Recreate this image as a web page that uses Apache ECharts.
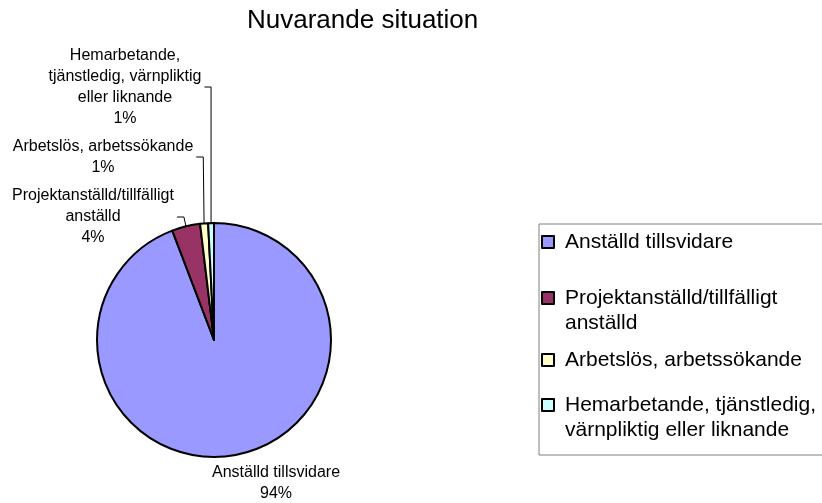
<!DOCTYPE html>
<html>
<head>
<meta charset="utf-8">
<script src="https://cdn.jsdelivr.net/npm/echarts@6/dist/echarts.min.js"></script>
<style>
  html, body { margin: 0; padding: 0; background: #fff; }
  #chart { width: 822px; height: 503px; }
</style>
</head>
<body>
<div id="chart"></div>
<script>
const categories = [
  "Anställd tillsvidare",
  "Projektanställd/tillfälligt anställd",
  "Arbetslös, arbetssökande",
  "Hemarbetande, tjänstledig, värnpliktig eller liknande"
];
const shares = [94.2, 3.9, 1.1, 0.8];
const sliceColors = ["#9999FF", "#993366", "#FFFFCC", "#CCFFFF"];

// how the names wrap, in the slice labels and in the legend
const pieLabelLines = [
  ["Anställd tillsvidare"],
  ["Projektanställd/tillfälligt", "anställd"],
  ["Arbetslös, arbetssökande"],
  ["Hemarbetande,", "tjänstledig, värnpliktig", "eller liknande"]
];
const legendLines = [
  ["Anställd tillsvidare"],
  ["Projektanställd/tillfälligt", "anställd"],
  ["Arbetslös, arbetssökande"],
  ["Hemarbetande, tjänstledig,", "värnpliktig eller liknande"]
];

const FONT = "'Liberation Sans', Arial, sans-serif";

// text centres of the slice labels, where the original put them
const labelAnchors = [[276, 483], [93, 217], [103, 157], [125, 87]];

// legend: one entry per legend component so each marker can sit where Excel put it
const LEGEND_LINE = 25;
const legendMarkerY = [242, 298, 360, 405];
const legendBox = { left: 539, top: 224, bottom: 455 };

function legendText(i) {
  // a blank line on top keeps the marker level with the first line of a 2-line entry
  const lines = legendLines[i].length > 1 ? [""].concat(legendLines[i]) : legendLines[i];
  return lines.join("\n");
}

const legends = categories.map((name, i) => {
  const nLines = legendLines[i].length > 1 ? legendLines[i].length + 1 : 1;
  const contentTop = legendMarkerY[i] - nLines * LEGEND_LINE / 2;
  const lg = {
    orient: "vertical",
    left: legendBox.left + 2,
    top: contentTop,
    padding: 0,
    itemWidth: 12,
    itemHeight: 12,
    icon: "rect",
    selectedMode: false,
    itemStyle: { borderColor: "#000", borderWidth: 2 },
    textStyle: {
      fontSize: 21, lineHeight: LEGEND_LINE, fontFamily: FONT, color: "#000",
      padding: [0, 0, 0, 6],
      backgroundColor: "rgba(255,255,255,0)"
    },
    data: [name],
    formatter: () => legendText(i)
  };
  if (i === 0) {
    // first entry carries the frame round the whole legend
    lg.left = legendBox.left;
    lg.top = legendBox.top;
    lg.padding = [contentTop - legendBox.top, 200,
      legendBox.bottom - contentTop - LEGEND_LINE, 2];
    lg.borderColor = "#808080";
    lg.borderWidth = 1;
  }
  return lg;
});

const chart = echarts.init(document.getElementById("chart"));

const option = {
  animation: false,
  title: {
    text: "Nuvarande situation",
    left: 242,
    top: 3,
    textStyle: { fontSize: 26, fontWeight: "normal", color: "#000", fontFamily: FONT }
  },
  legend: legends,
  series: [
    {
      type: "pie",
      center: [214, 340],
      radius: 117,
      startAngle: 90,
      clockwise: true,
      avoidLabelOverlap: false,
      percentPrecision: 0,
      emphasis: { scale: false },
      itemStyle: { borderColor: "#000", borderWidth: 2 },
      label: {
        show: true,
        position: "outside",
        color: "#000",
        fontSize: 16,
        lineHeight: 21,
        fontFamily: FONT,
        formatter(p) {
          return pieLabelLines[p.dataIndex].join("\n") + "\n" + p.percent + "%";
        }
      },
      labelLine: { show: true, smooth: false, lineStyle: { color: "#000", width: 1 } },
      labelLayout(p) {
        const x = labelAnchors[p.dataIndex][0];
        const y = labelAnchors[p.dataIndex][1];
        const out = { x: x, y: y, align: "center", verticalAlign: "middle" };
        const edge = p.labelLinePoints && p.labelLinePoints[0];
        if (edge && p.dataIndex > 0) {
          const right = x + p.labelRect.width / 2;
          const bend = Math.min(edge[0], right + 10);
          out.labelLinePoints = [[right + 3, y], [bend, y], edge];
        }
        return out;
      },
      data: categories.map((name, i) => ({
        name: name,
        value: shares[i],
        itemStyle: { color: sliceColors[i] },
        labelLine: { show: i > 0 }
      }))
    }
  ]
};

chart.setOption(option);
</script>
</body>
</html>
